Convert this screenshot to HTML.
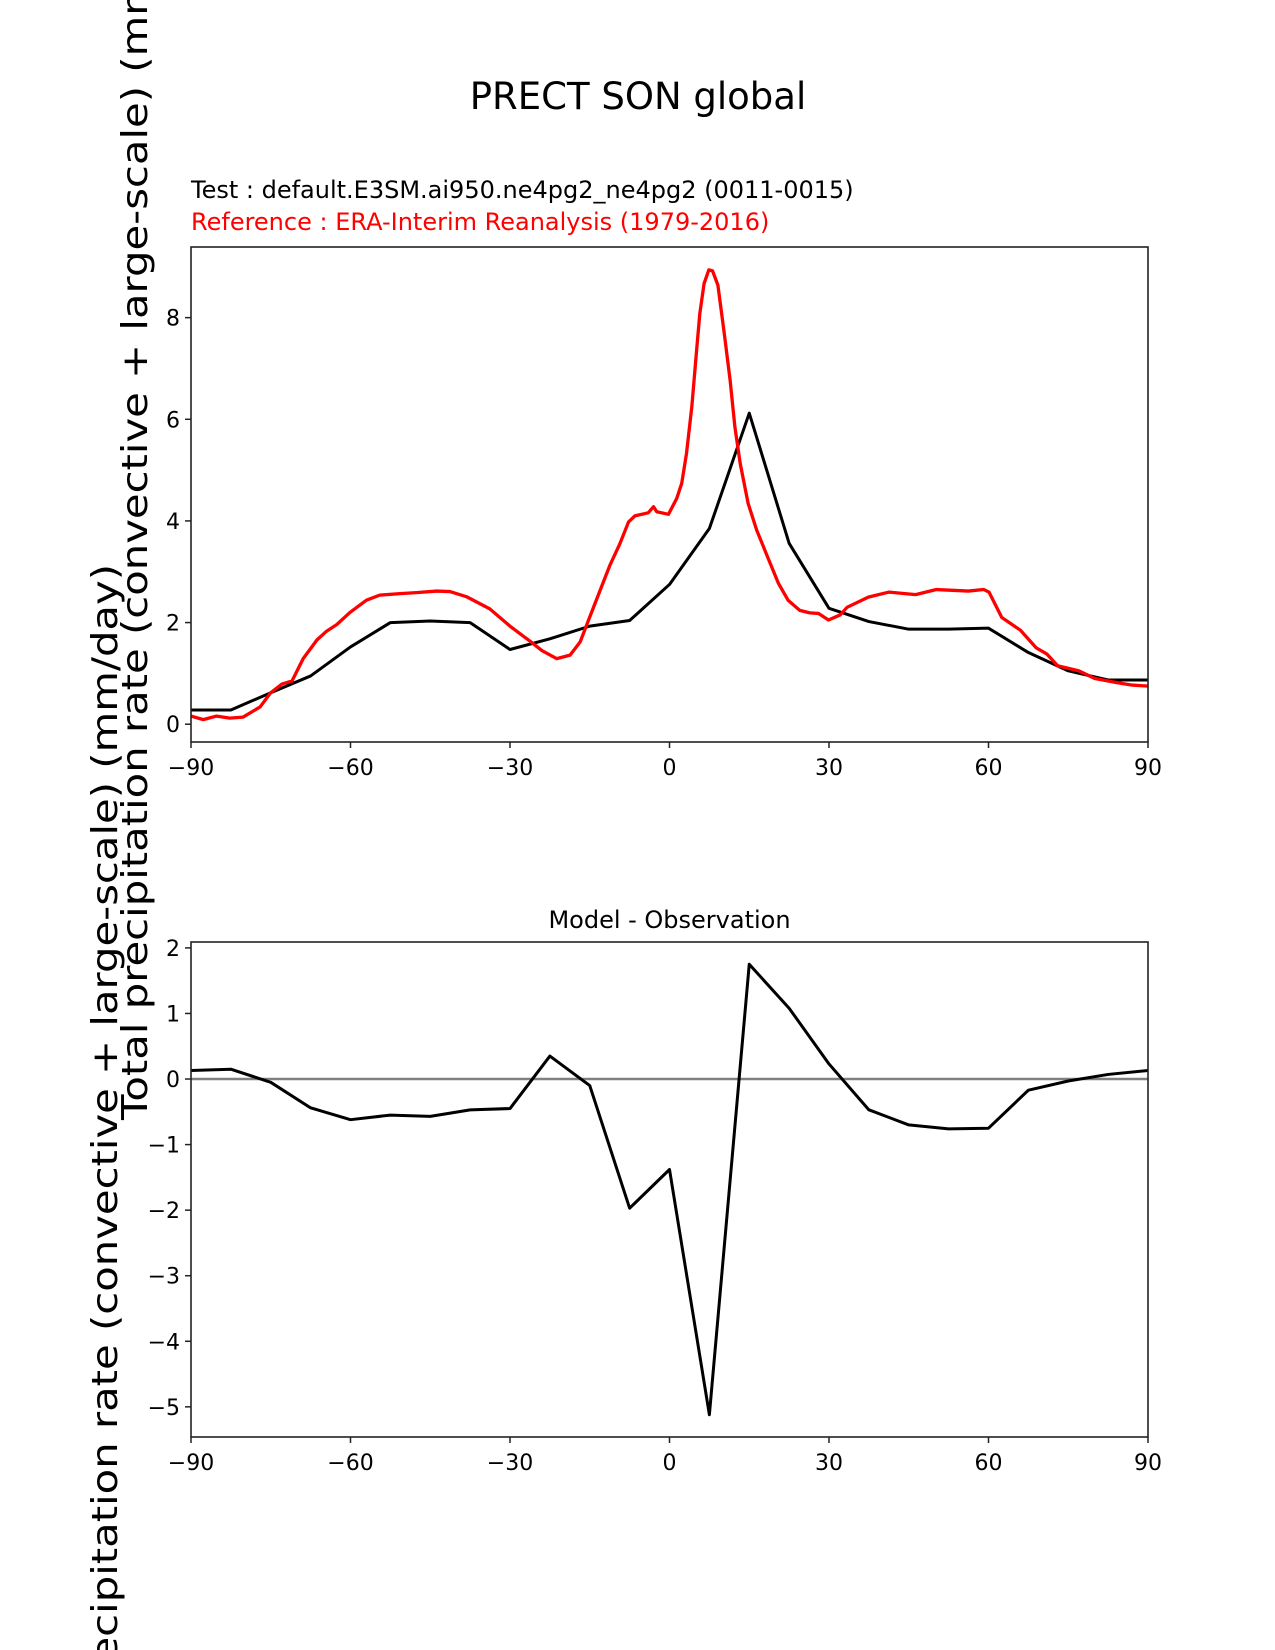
<!DOCTYPE html>
<html><head><meta charset="utf-8">
<style>
html,body{margin:0;padding:0;background:#fff;width:1275px;height:1650px;overflow:hidden;}
svg{display:block;font-family:"DejaVu Sans","Liberation Sans",sans-serif;}
</style></head>
<body>
<svg id="fig" width="1275" height="1650" viewBox="0 0 1275 1650" xmlns="http://www.w3.org/2000/svg">
<rect width="1275" height="1650" fill="#fff"/>
<text x="638" y="109" font-size="37" text-anchor="middle">PRECT SON global</text>
<text x="191" y="198" font-size="24">Test : default.E3SM.ai950.ne4pg2_ne4pg2 (0011-0015)</text>
<text x="191" y="230" font-size="24" fill="#ff0000">Reference : ERA-Interim Reanalysis (1979-2016)</text>
<text x="669.5" y="928" font-size="24" text-anchor="middle">Model - Observation</text>
<g id="top"></g>
<g id="bot"></g>
<text transform="translate(117,1190) rotate(-90)" font-size="36" text-anchor="middle" textLength="1252" lengthAdjust="spacingAndGlyphs">Total precipitation rate (convective + large-scale) (mm/day)</text>
<text transform="translate(147,494) rotate(-90)" font-size="36" text-anchor="middle" textLength="1252" lengthAdjust="spacingAndGlyphs">Total precipitation rate (convective + large-scale) (mm/day)</text>
</svg>
<script>
const modelLat = [-90,-82.5,-75,-67.5,-60,-52.5,-45,-37.5,-30,-22.5,-15,-7.5,0,7.5,15,22.5,30,37.5,45,52.5,60,67.5,75,82.5,90];
const modelVal = [0.28,0.28,0.62,0.95,1.52,2.0,2.03,2.0,1.47,1.68,1.93,2.04,2.75,3.85,6.12,3.56,2.28,2.02,1.87,1.87,1.89,1.41,1.05,0.87,0.87];
const obsLat = [-90,-87.7,-85.2,-82.7,-80.2,-77,-75.1,-72.9,-71,-68.9,-66.3,-64.5,-62.6,-60.1,-57,-54.5,-50.7,-47.6,-43.8,-41.3,-38.2,-33.8,-30,-26.2,-24,-21.2,-18.7,-16.8,-15,-13.4,-11.2,-9.3,-7.7,-6.5,-4,-3,-2.4,-0.2,1.35,2.3,3.2,4.2,5.1,5.7,6.5,7.4,8.1,9.1,10.3,11.4,12.3,13.3,14.8,16.4,18.3,20.5,22.3,24.5,26.4,28,29.9,32.1,33.4,37.4,41.3,46.3,50.2,56.2,59.1,60.1,62.5,66,69,71,73,77,80,84,87,90];
const obsVal = [0.16,0.09,0.16,0.12,0.14,0.34,0.61,0.79,0.85,1.29,1.66,1.83,1.96,2.2,2.44,2.54,2.57,2.59,2.62,2.61,2.51,2.27,1.93,1.63,1.45,1.29,1.36,1.62,2.11,2.54,3.13,3.56,3.98,4.1,4.16,4.28,4.18,4.13,4.44,4.74,5.33,6.25,7.36,8.08,8.67,8.94,8.92,8.64,7.69,6.77,5.85,5.13,4.34,3.82,3.33,2.77,2.44,2.24,2.19,2.18,2.05,2.15,2.3,2.5,2.6,2.55,2.65,2.62,2.65,2.6,2.1,1.85,1.5,1.38,1.15,1.05,0.9,0.82,0.77,0.75];
const diffVal = [0.13,0.15,-0.05,-0.44,-0.62,-0.55,-0.57,-0.47,-0.45,0.35,-0.1,-1.97,-1.38,-5.12,1.75,1.08,0.23,-0.47,-0.70,-0.76,-0.75,-0.17,-0.03,0.07,0.13];
const xTicks = [-90,-60,-30,0,30,60,90];
const xTickLabels = ["\u221290","\u221260","\u221230","0","30","60","90"];
const topYTicks = [0,2,4,6,8];
const botYTicks = [-5,-4,-3,-2,-1,0,1,2];

const NS = "http://www.w3.org/2000/svg";
function mk(parent, tag, attrs){ const e=document.createElementNS(NS,tag); for(const k in attrs) e.setAttribute(k,attrs[k]); parent.appendChild(e); return e; }

function panel(g, box, ylim, yTicks, prefix){
  const sx = v => box.l + (v+90)/180*(box.r-box.l);
  const sy = v => box.b - (v-ylim[0])/(ylim[1]-ylim[0])*(box.b-box.t);
  for(let i=0;i<xTicks.length;i++){
    const x=sx(xTicks[i]);
    const t=mk(g,'line',{x1:x,x2:x,y1:box.b,y2:box.b+6,stroke:'#222','stroke-width':1.5});
    
    
    const tx=mk(g,'text',{x:x,y:box.b+33,'font-size':22,'text-anchor':'middle'});
    tx.textContent=xTickLabels[i];
    
    
  }
  for(const v of yTicks){
    const y=sy(v);
    const t=mk(g,'line',{x1:box.l-6,x2:box.l,y1:y,y2:y,stroke:'#222','stroke-width':1.5});
    
    
    const tx=mk(g,'text',{x:box.l-11,y:y+8,'font-size':22,'text-anchor':'end'});
    tx.textContent = v<0 ? "\u2212"+Math.abs(v) : String(v);
    
    
  }
  return {sx, sy};
}
function line(g, xs, ys, s, color, w, name){
  const d = xs.map((x,i)=>(i?'L':'M')+s.sx(x).toFixed(2)+' '+s.sy(ys[i]).toFixed(2)).join(' ');
  const p=mk(g,'path',{d:d,fill:'none',stroke:color,'stroke-width':w,'stroke-linejoin':'round','stroke-linecap':'square'});
  
  
}
function frame(g, box, name){
  const r=mk(g,'rect',{x:box.l,y:box.t,width:box.r-box.l,height:box.b-box.t,fill:'none',stroke:'#222','stroke-width':1.6});
  
  
}

const topG=document.getElementById('top');
const tb={l:191,r:1148,t:247,b:742};
const ts=panel(topG,tb,[-0.35,9.39],topYTicks,'top');
const clip1=mk(topG,'clipPath',{id:'c1'}); mk(clip1,'rect',{x:tb.l,y:tb.t,width:tb.r-tb.l,height:tb.b-tb.t});
const tg=mk(topG,'g',{'clip-path':'url(#c1)'});
line(tg,modelLat,modelVal,ts,'#000',3,'model-line');
line(tg,obsLat,obsVal,ts,'#ff0000',3.3,'observation-line');
frame(topG,tb,'top-axes-frame');

const botG=document.getElementById('bot');
const bb={l:191,r:1148,t:942,b:1437};
const bs=panel(botG,bb,[-5.46,2.09],botYTicks,'bottom');
const clip2=mk(botG,'clipPath',{id:'c2'}); mk(clip2,'rect',{x:bb.l,y:bb.t,width:bb.r-bb.l,height:bb.b-bb.t});
const bg=mk(botG,'g',{'clip-path':'url(#c2)'});
line(bg,[-90,90],[0,0],bs,'#808080',2.5,'zero-line');
line(bg,modelLat,diffVal,bs,'#000',3,'difference-line');
frame(botG,bb,'bottom-axes-frame');
</script>
</body></html>
